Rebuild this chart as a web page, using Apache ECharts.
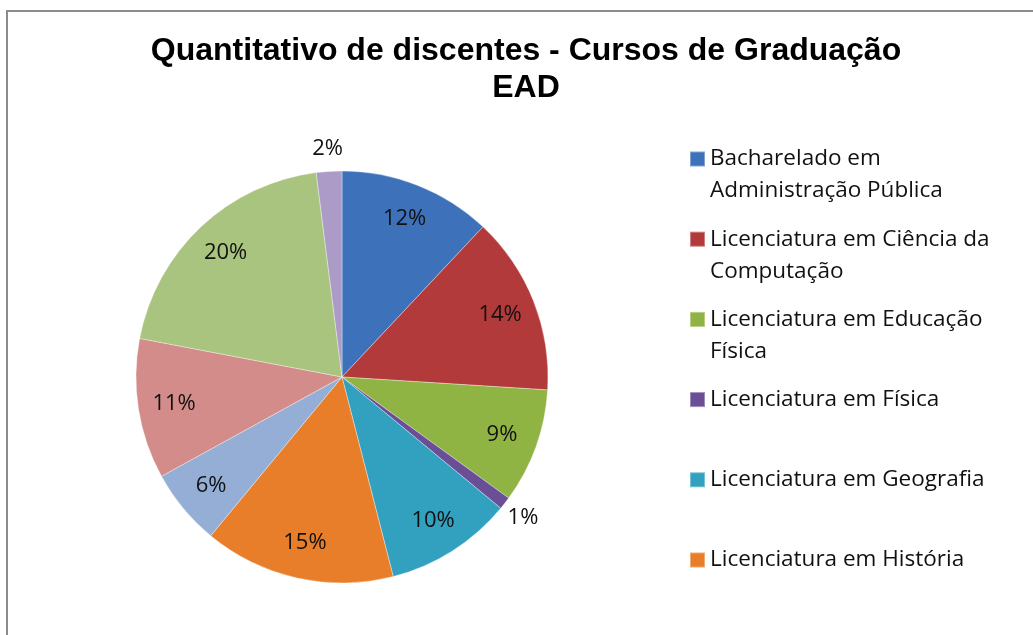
<!DOCTYPE html>
<html lang="pt-BR" style="height: 100%">
<head>
  <meta charset="utf-8">
</head>
<body style="height: 100%; margin: 0">
  <div id="container" style="width: 1033px; height: 635px"></div>

  <script type="text/javascript" src="https://cdn.jsdelivr.net/npm/echarts@6/dist/echarts.min.js"></script>
  <script type="text/javascript">
    // cursos e percentuais
    var cursos = [
      'Bacharelado em Administração Pública',
      'Licenciatura em Ciência da Computação',
      'Licenciatura em Educação Física',
      'Licenciatura em Física',
      'Licenciatura em Geografia',
      'Licenciatura em História',
      'Licenciatura em Letras',
      'Licenciatura em Matemática',
      'Licenciatura em Pedagogia',
      'Licenciatura em Química'
    ];
    var percentuais = [12, 14, 9, 1, 10, 15, 6, 11, 20, 2];
    // texto da legenda (só os 6 primeiros aparecem no original)
    var legendaTexto = [
      'Bacharelado em\nAdministração Pública',
      'Licenciatura em Ciência da\nComputação',
      'Licenciatura em Educação\nFísica',
      'Licenciatura em Física\n ',
      'Licenciatura em Geografia\n ',
      'Licenciatura em História\n '
    ];
    var cores = ['#3d72ba', '#b33a3a', '#8fb443', '#6a4f96', '#31a1bf', '#e87e2a',
                 '#94aed6', '#d38c8a', '#a9c47f', '#ab9bc6'];

    var dom = document.getElementById('container');
    var myChart = echarts.init(dom, null, { renderer: 'canvas' });

    var fonteTexto = '"Open Sans", Lato, sans-serif';

    var dados = cursos.map(function (c, i) {
      return { name: c, value: percentuais[i], itemStyle: { color: cores[i] } };
    });

    // uma legenda por item; linha vazia no topo deixa o ícone na 1a linha
    var legendas = legendaTexto.map(function (t, i) {
      return {
        orient: 'vertical',
        left: 689,
        top: 159 + i * 80.2 - 48,
        padding: 0,
        data: [cursos[i]],
        icon: 'rect',
        itemWidth: 15,
        itemHeight: 15,
        selectedMode: false,
        formatter: function () { return '\u00a0\n' + t; },
        textStyle: {
          fontFamily: fonteTexto,
          fontSize: 22.5,
          lineHeight: 32,
          color: '#111'
        }
      };
    });

    var rotulo = function (p) { return Math.round(p.percent) + '%'; };

    var option = {
      backgroundColor: '#fff',
      animation: false,
      title: {
        text: 'Quantitativo de discentes - Cursos de Graduação\nEAD',
        left: 526,
        textAlign: 'center',
        top: 33,
        padding: 0,
        textStyle: {
          fontFamily: '"Liberation Sans", Arial, sans-serif',
          fontWeight: 'bold',
          fontSize: 32,
          lineHeight: 37,
          color: '#000'
        }
      },
      legend: legendas,
      graphic: [{
        type: 'polyline',
        silent: true,
        shape: { points: [[7, 640], [7, 11], [1040, 11]] },
        style: { stroke: '#8c8c8c', lineWidth: 2, fill: null }
      }],
      series: [
        {
          type: 'pie',
          center: [342, 377],
          radius: [0, 206],
          startAngle: 90,
          clockwise: true,
          label: { show: false },
          labelLine: { show: false },
          itemStyle: { borderColor: 'rgba(255,255,255,0.35)', borderWidth: 1 },
          emphasis: { disabled: true },
          data: dados
        },
        {
          // rótulos internos
          type: 'pie',
          center: [342, 377],
          radius: [128, 206],
          startAngle: 90,
          silent: true,
          itemStyle: { color: 'rgba(0,0,0,0)' },
          label: {
            position: 'inside',
            formatter: rotulo,
            fontFamily: fonteTexto,
            fontSize: 22,
            color: '#111'
          },
          labelLine: { show: false },
          data: cursos.map(function (c, i) {
            return { name: c, value: percentuais[i], label: { show: percentuais[i] >= 3 } };
          })
        },
        {
          // rótulos externos das fatias pequenas
          type: 'pie',
          center: [342, 377],
          radius: [206, 246],
          startAngle: 90,
          silent: true,
          itemStyle: { color: 'rgba(0,0,0,0)' },
          label: {
            position: 'inside',
            formatter: rotulo,
            fontFamily: fonteTexto,
            fontSize: 22,
            color: '#111'
          },
          labelLine: { show: false },
          data: cursos.map(function (c, i) {
            return { name: c, value: percentuais[i], label: { show: percentuais[i] < 3 } };
          })
        }
      ]
    };

    myChart.setOption(option);
    window.addEventListener('resize', myChart.resize);
  </script>
</body>
</html>
